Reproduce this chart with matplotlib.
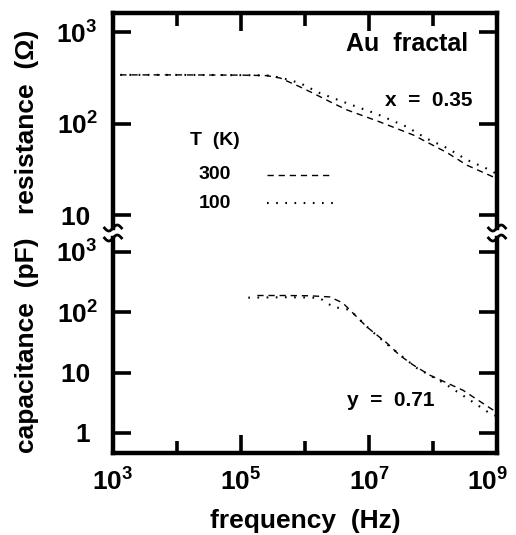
import numpy as np
import matplotlib
matplotlib.use("Agg")
import matplotlib.pyplot as plt
from matplotlib.ticker import NullLocator, NullFormatter
from matplotlib.transforms import ScaledTranslation

plt.rcParams['font.family'] = ['Liberation Sans', 'DejaVu Sans']
plt.rcParams['font.weight'] = 'bold'
plt.rcParams['mathtext.fontset'] = 'custom'
plt.rcParams['mathtext.rm'] = 'Liberation Sans:bold'
plt.rcParams['mathtext.it'] = 'Liberation Sans:bold'
plt.rcParams['mathtext.bf'] = 'Liberation Sans:bold'
plt.rcParams['mathtext.default'] = 'rm'

# resistance vs frequency, Au fractal film
f_R300 = [1.3e3, 1e4, 1e5, 2.5e5, 4.1e5, 8.0e5, 1.33e6, 2.5e6, 4.5e6, 1.48e7,
          4.9e7, 1.66e8, 3.4e8, 7.8e8, 1e9]
R300 = [340, 340, 338, 334, 314, 255, 215, 172, 141, 104, 75, 48, 35, 27, 25]
f_R100 = [1.3e3, 1e4, 1e5, 2.5e5, 4.1e5, 8.3e5, 1.7e6, 4.6e6, 1.33e7, 3.9e7,
          8.1e7, 1.66e8, 3.4e8, 7.8e8, 1e9]
R100 = [340, 340, 338, 336, 318, 277, 215, 166, 127, 92, 68, 54, 40, 31, 28]

# capacitance vs frequency
f_C300 = [1.8e5, 5e5, 1.2e6, 2.45e6, 3.9e6, 9.3e6, 1.9e7, 3.0e7, 4.9e7, 8.9e7,
          2.95e8, 8.7e8, 1e9]
C300 = [190, 190, 188, 180, 143, 57, 31, 19.5, 13.4, 9.1, 5.1, 2.4, 2.1]
f_C100 = [1.3e5, 5e5, 1.2e6, 1.7e6, 2.75e6, 5e6, 1.05e7, 2.15e7, 5.6e7, 1.45e8,
          3.8e8, 7.8e8, 1e9]
C100 = [175, 178, 176, 172, 123, 110, 51, 26.6, 11.9, 6.8, 3.5, 2.1, 1.9]

fig = plt.figure(figsize=(5.16, 5.35), dpi=100)
W, H = 516, 535
ax1 = fig.add_axes([113 / W, 1 - 228 / H, 384 / W, 215 / H])
ax2 = fig.add_axes([113 / W, 1 - 453 / H, 384 / W, 215 / H])

dash = (0, (4.5, 3.5))
dots = (0, (0.8, 3.6))
ax1.plot(f_R300, R300, color='black', lw=1.0, ls=dash)
ax1.plot(f_R100, R100, color='black', lw=1.5, ls=dots)
ax2.plot(f_C300, C300, color='black', lw=1.0, ls=dash)
ax2.plot(f_C100, C100, color='black', lw=1.5, ls=dots)

for ax in (ax1, ax2):
    ax.set_xscale('log')
    ax.set_yscale('log')
    ax.set_xlim(1e3, 1e9)
    for s in ax.spines.values():
        s.set_linewidth(3.2)
    ax.yaxis.set_minor_locator(NullLocator())
    ax.set_xticks([1e3, 1e5, 1e7, 1e9])
    ax.set_xticks([1e4, 1e6, 1e8], minor=True)
    ax.xaxis.set_minor_formatter(NullFormatter())
    ax.tick_params(which='both', direction='in', width=2.6, left=True, right=True,
                   labelsize=19, pad=11)
    ax.tick_params(which='major', length=13)
    ax.tick_params(which='minor', length=9)

ax1.set_ylim(7.21, 1614)
ax2.set_ylim(0.466, 1706)
ax1.spines['bottom'].set_visible(False)
ax2.spines['top'].set_visible(False)
ax1.tick_params(axis='x', which='both', bottom=False, top=True, labelbottom=False)
ax2.tick_params(axis='x', which='both', bottom=True, top=False, pad=11)

ax1.set_yticks([10, 100, 1000], labels=['10 ', '$10^{2}$', '$10^{3}$'])
ax2.set_yticks([1, 10, 100, 1000], labels=['1 ', '10 ', '$10^{2}$', '$10^{3}$'])
ax2.set_xticks([1e3, 1e5, 1e7, 1e9],
               labels=['$10^{3}$', '$10^{5}$', '$10^{7}$', '$10^{9}$'])
# pull the last frequency label in from the figure edge
last = ax2.get_xticklabels()[-1]
last.set_transform(last.get_transform() +
                   ScaledTranslation(-0.09, 0, fig.dpi_scale_trans))

# axis break marks on both sides
tw = np.linspace(-0.085, 0.085, 40)
th = 0.03 * np.sin(np.pi * tw / 0.085)
for ax in (ax1, ax2):
    y0 = 0 if ax is ax1 else 1
    for x0 in (0, 1):
        tr = fig.dpi_scale_trans + ScaledTranslation(x0, y0, ax.transAxes)
        ax.plot(tw, th, color='black', lw=2.0, transform=tr, clip_on=False)

fig.text(27 / W, 1 - 122 / H, 'resistance  (Ω)', rotation=90, ha='center',
         va='center', fontsize=19)
fig.text(27 / W, 1 - 345 / H, 'capacitance  (pF)', rotation=90, ha='center',
         va='center', fontsize=19)
fig.text(305 / W, 1 - 521 / H, 'frequency  (Hz)', ha='center', va='center',
         fontsize=19)

ax1.text(0.9245, 0.856, 'Au  fractal', transform=ax1.transAxes, ha='right',
         va='center', fontsize=18)
ax1.text(0.9375, 0.595, 'x  =  0.35', transform=ax1.transAxes, ha='right',
         va='center', fontsize=15)
ax1.text(0.2656, 0.405, 'T  (K)', transform=ax1.transAxes, ha='center',
         va='center', fontsize=14)
ax1.text(0.2656, 0.251, '300', transform=ax1.transAxes, ha='center',
         va='center', fontsize=14)
ax1.text(0.2656, 0.112, '100', transform=ax1.transAxes, ha='center',
         va='center', fontsize=14)
ax1.plot([0.401, 0.573], [0.2465, 0.2465], transform=ax1.transAxes,
         color='black', lw=1.0, ls=dash)
ax1.plot([0.401, 0.573], [0.116, 0.116], transform=ax1.transAxes,
         color='black', lw=1.5, ls=dots)
ax2.text(0.609, 0.2465, 'y  =  0.71', transform=ax2.transAxes, ha='left',
         va='center', fontsize=15)

fig.savefig('out.png', dpi=100)
